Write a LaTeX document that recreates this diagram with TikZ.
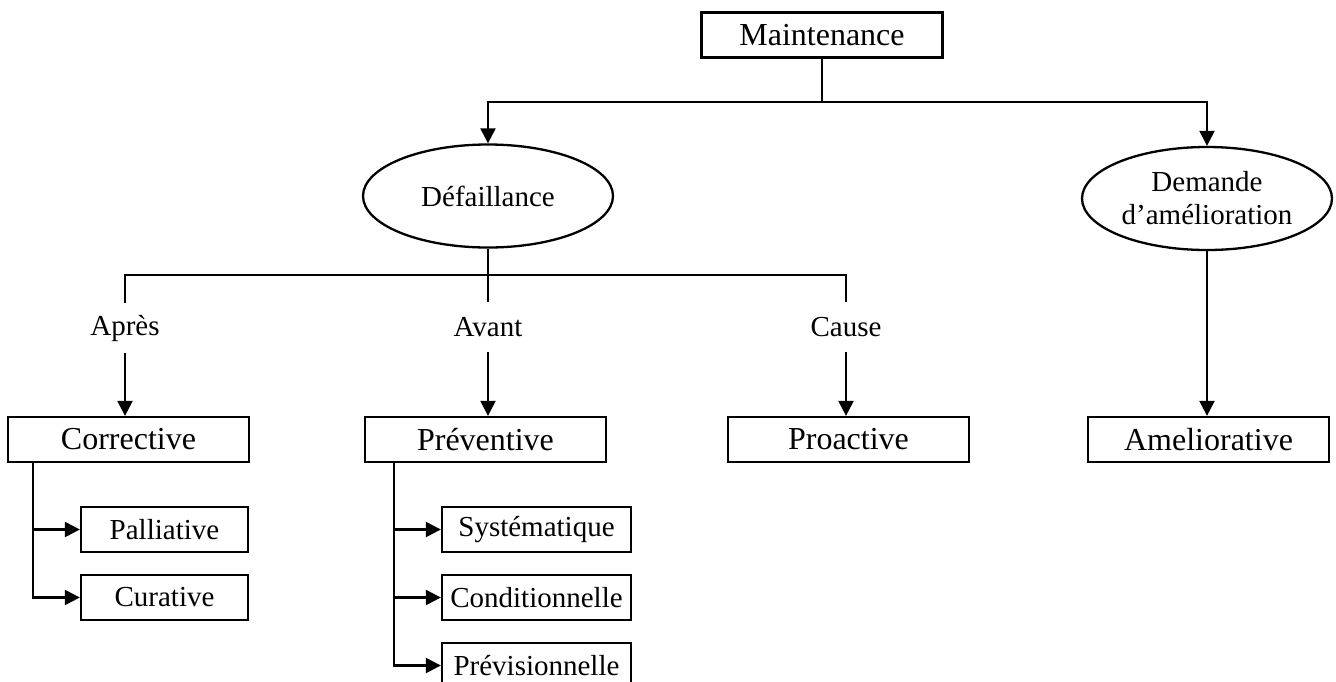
\documentclass[tikz,border=0pt]{standalone}
\usepackage{fontspec}
\setmainfont{Liberation Serif}
\usetikzlibrary{shapes.geometric,arrows.meta}

\tikzset{
  bigfont/.style={font=\fontsize{32}{38}\selectfont},
  smallfont/.style={font=\fontsize{29}{33}\selectfont},
  mainbox/.style={draw, inner sep=0pt, minimum width=241pt, minimum height=45pt, bigfont},
  subbox/.style={draw, inner sep=0pt, minimum height=45pt, smallfont},
  oval/.style={draw, ellipse, inner sep=0pt, minimum width=250pt, minimum height=103pt, smallfont, align=center},
  lbl/.style={inner sep=0pt, minimum height=48pt, smallfont},
  arr/.style={-{Triangle[length=15pt,width=15pt]}},
}

\begin{document}
\begin{tikzpicture}[x=1pt,y=-1pt,line width=2.3pt]
\useasboundingbox (0,0) rectangle (1336,681);
\clip (0,0) rectangle (1336,681);

% top level
\node[mainbox] (maint) at (822,35) {Maintenance};

% two causes
\node[oval] (def) at (488,196) {Défaillance};
\node[oval] (dem) at (1207,198.5) {Demande\\d’amélioration};

% timing labels
\node[lbl] (apres) at (125,328) {Après};
\node[lbl] (avant) at (488,327) {Avant};
\node[lbl] (cause) at (846,327) {Cause};

% maintenance types
\node[mainbox] (corr) at (128.5,439.5) {Corrective};
\node[mainbox] (prev) at (485.5,439.5) {Préventive};
\node[mainbox] (proa) at (848.5,439.5) {Proactive};
\node[mainbox] (amel) at (1208.5,439.5) {Ameliorative};

% corrective sub-types
\node[subbox, minimum width=167pt] (pall) at (164.5,529.5) {Palliative};
\node[subbox, minimum width=167pt] (cura) at (164.5,597.5) {Curative};

% preventive sub-types
\node[subbox, minimum width=189pt] (syst) at (536.5,529.5) {Systématique};
\node[subbox, minimum width=189pt] (cond) at (536.5,597.5) {Conditionnelle};
\node[subbox, minimum width=189pt] (prvi) at (536.5,665.5) {Prévisionnelle};

% junctions
\coordinate (mj) at (822,102);
\coordinate (dj) at (488,275);
\coordinate (cj) at (33,462);
\coordinate (pj) at (394,462);

% Maintenance -> causes
\draw (maint.south) -- (mj);
\draw[arr] (mj) -| (def.north);
\draw[arr] (mj) -| (dem.north);

% Défaillance -> labels
\draw (def.south) -- (dj);
\draw (dj) -| (apres.north);
\draw (dj) -- (avant.north);
\draw (dj) -| (cause.north);

% labels -> types
\draw[arr] (apres.south) -- (apres.south |- corr.north);
\draw[arr] (avant.south) -- (avant.south |- prev.north);
\draw[arr] (cause.south) -- (cause.south |- proa.north);
\draw[arr] (dem.south) -- (dem.south |- amel.north);

% sub-type branches
\draw[arr] (cj) |- (pall.west);
\draw[arr] (cj) |- (cura.west);
\draw[arr] (pj) |- (syst.west);
\draw[arr] (pj) |- (cond.west);
\draw[arr] (pj) |- (prvi.west);
\end{tikzpicture}
\end{document}
